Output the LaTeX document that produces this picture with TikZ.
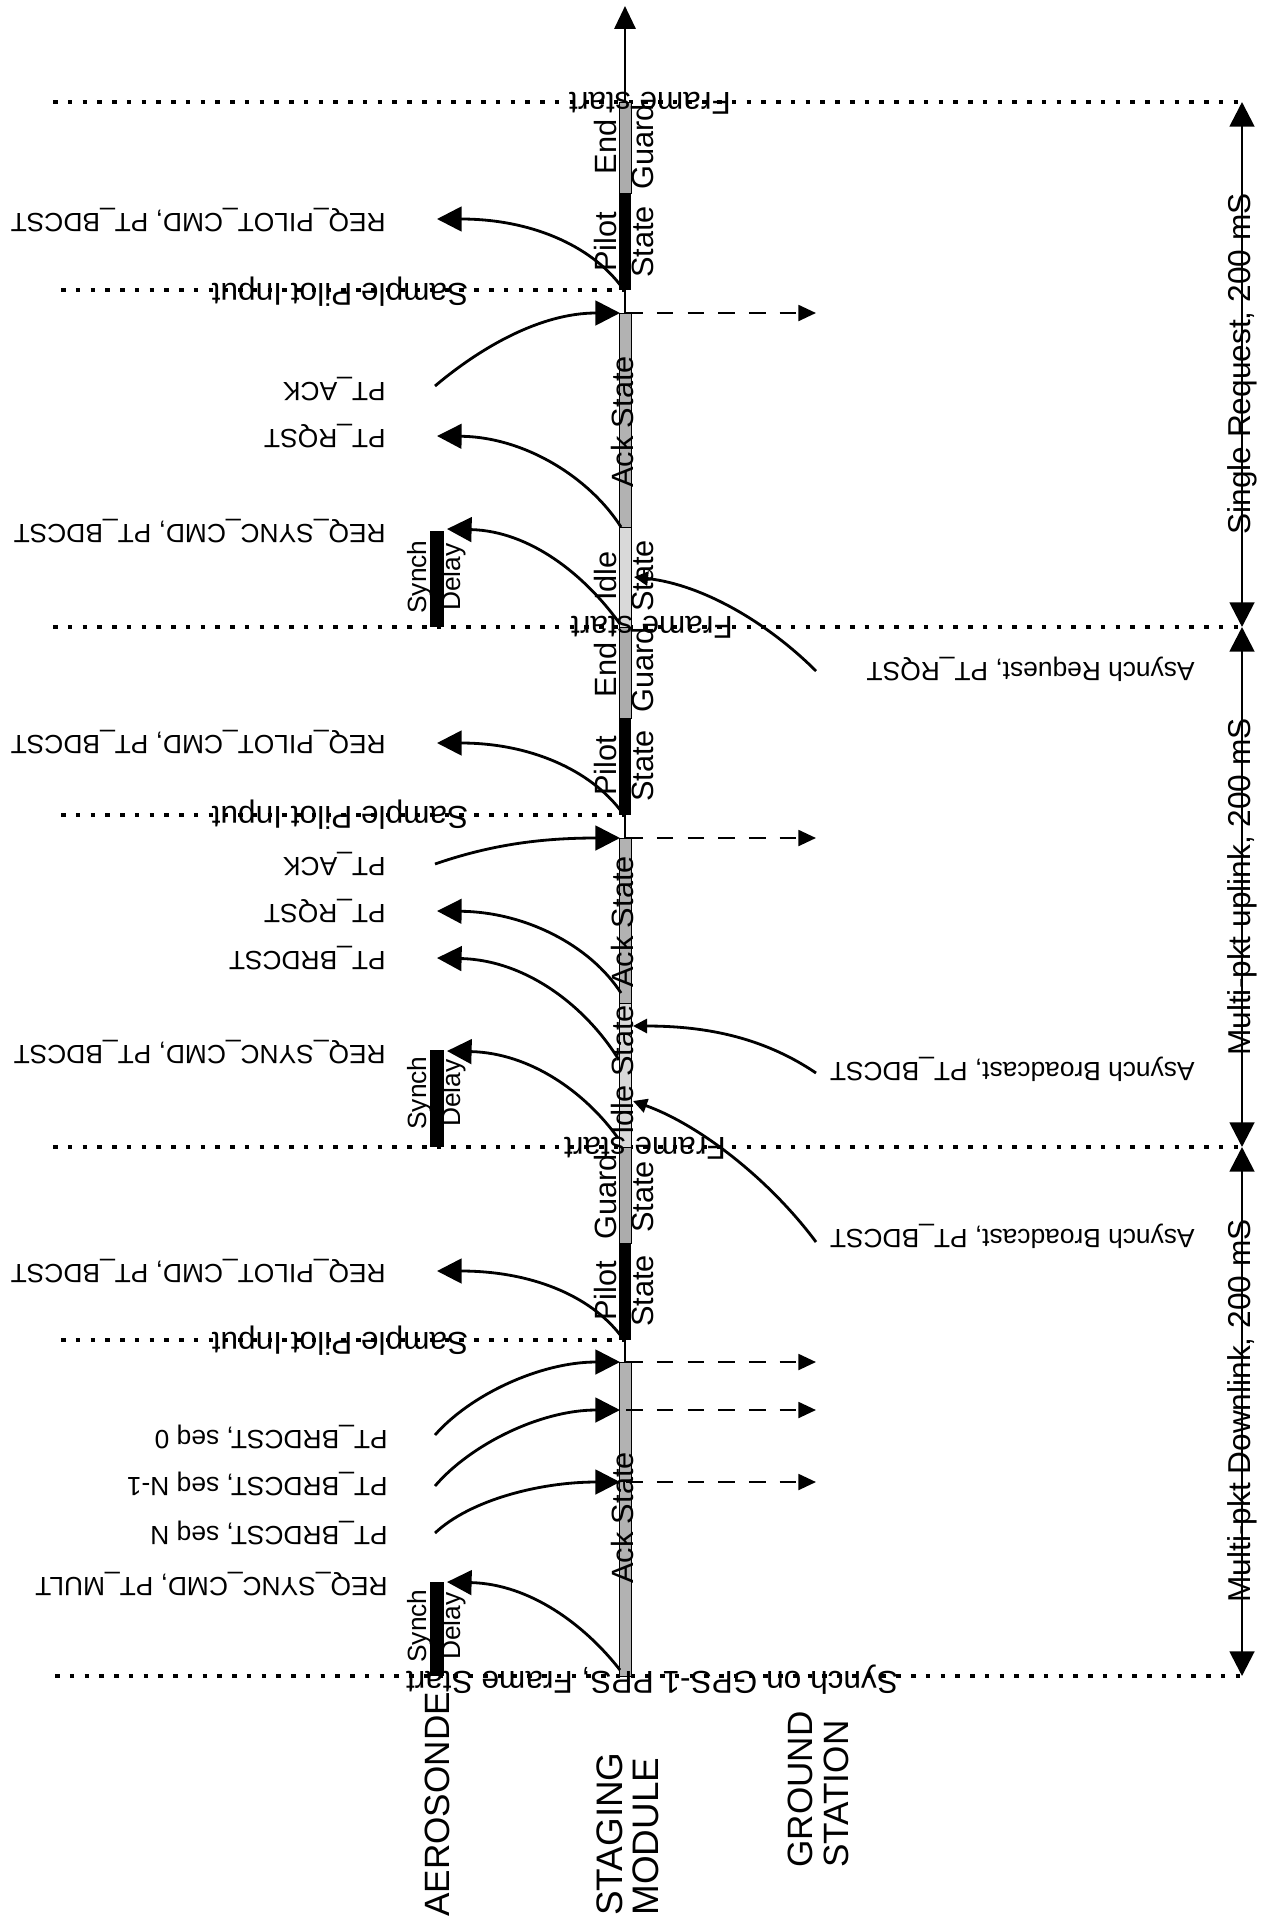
\documentclass[tikz,border=0pt]{standalone}
\usepackage{fontspec}
\setmainfont{Liberation Sans}
\usetikzlibrary{arrows.meta}
\newcommand{\msgfont}{\fontsize{15}{18}\selectfont}
\newcommand{\markfont}{\fontsize{18}{21}\selectfont}
\newcommand{\statefont}{\fontsize{17.5}{21}\selectfont}
\newcommand{\delayfont}{\fontsize{15}{19.5}\selectfont}
\newcommand{\headfont}{\fontsize{20}{20.5}\selectfont}
\begin{document}
\begin{tikzpicture}[x=0.02cm, y=-0.02cm,
    frameline/.style={line width=2pt, dash pattern=on 2.6pt off 5.8pt},
    msg/.style={line width=1.6pt, -{Triangle[length=14pt,width=14pt]}},
    async/.style={line width=1.6pt, -{Triangle[length=8pt,width=8pt]}},
    fwd/.style={line width=1.4pt, dash pattern=on 9.5pt off 8pt, -{Triangle[length=10pt,width=9pt]}},
    span/.style={line width=1.6pt, {Triangle[length=14pt,width=14pt]}-{Triangle[length=14pt,width=14pt]}},
    guardbar/.style={fill=gray!65, draw=black, line width=0.4pt},
    pilotbar/.style={fill=black},
    ackbar/.style={fill=gray!60, draw=black, line width=0.4pt},
    idlebar/.style={fill=gray!30, draw=black, line width=0.4pt},
    msglabel/.style={rotate=180, anchor=west, font=\msgfont, inner sep=0pt},
    marklabel/.style={rotate=180, font=\markfont, inner sep=0pt},
    statelabel/.style={rotate=90, align=center, font=\statefont, inner sep=0pt},
    spanlabel/.style={rotate=90, font=\markfont, inner sep=0pt}]
  \useasboundingbox (0,0) rectangle (1270,1917);

  % time axis of the staging module
  \coordinate (axbot) at (625,1676);
  \coordinate (axtop) at (625,6);
  \draw[line width=1.5pt, -{Triangle[length=13pt,width=12pt]}] (axbot) -- (axtop);

  % frame boundaries
  \draw[frameline] (53,102) -- (1242,102);
  \draw[frameline] (53,627) -- (1242,627);
  \draw[frameline] (53,1147) -- (1242,1147);
  \draw[frameline] (55,1676) -- (1242,1676);
  \draw[frameline] (61,290) -- (625,290);
  \draw[frameline] (61,815) -- (625,815);
  \draw[frameline] (61,1340) -- (625,1340);

  % states on the staging module
  \draw[guardbar] (619,102) rectangle (631,193);
  \fill[pilotbar] (619,193) rectangle (631,290);
  \draw[ackbar] (619,313) rectangle (631,527);
  \draw[idlebar] (619,527) rectangle (631,627);
  \draw[guardbar] (619,627) rectangle (631,718);
  \fill[pilotbar] (619,718) rectangle (631,815);
  \draw[ackbar] (619,838) rectangle (631,1003);
  \draw[idlebar] (619,1003) rectangle (631,1147);
  \draw[guardbar] (619,1147) rectangle (631,1243);
  \fill[pilotbar] (619,1243) rectangle (631,1340);
  \draw[ackbar] (619,1362) rectangle (631,1676);

  % synch delay on the aerosonde
  \fill (430,531) rectangle (444,627);
  \fill (430,1050) rectangle (444,1147);
  \fill (430,1582) rectangle (444,1676);

  % spans on the right
  \coordinate (f0) at (1242,102);
  \coordinate (f1) at (1242,627);
  \coordinate (f2) at (1242,1147);
  \coordinate (f3) at (1242,1676);
  \draw[span] (f0) -- (f1);
  \draw[span] (f1) -- (f2);
  \draw[span] (f2) -- (f3);
  \node[spanlabel] (single) at (1242,364) {Single Request, 200 mS};
  \node[spanlabel] (uplink) at (1242,887) {Multi-pkt uplink, 200 mS};
  \node[spanlabel] (downlink) at (1242,1411) {Multi-pkt Downlink, 200 mS};

  % first frame
  \coordinate (pc1) at (621,286);
  \coordinate (pt1) at (437,219);
  \draw[msg] (pc1) .. controls (590,245) and (530,219) .. (pt1);
  \coordinate (as1) at (435,386);
  \coordinate (at1) at (620,313);
  \draw[msg] (as1) .. controls (480,348) and (540,313) .. (at1);
  \coordinate (fd1) at (626,313);
  \coordinate (fe1) at (816,313);
  \draw[fwd] (fd1) -- (fe1);
  \coordinate (rc1) at (621,527);
  \coordinate (rt1) at (437,436);
  \draw[msg] (rc1) .. controls (590,478) and (525,437) .. (rt1);
  \coordinate (sc1) at (620,624);
  \coordinate (st1) at (447,529);
  \draw[msg] (sc1) .. controls (585,575) and (530,531) .. (st1);
  \coordinate (qs1) at (816,671);
  \coordinate (qt1) at (634,577);
  \draw[async] (qs1) .. controls (770,625) and (705,585) .. (qt1);

  % second frame
  \coordinate (pc2) at (621,811);
  \coordinate (pt2) at (437,743);
  \draw[msg] (pc2) .. controls (590,770) and (530,743) .. (pt2);
  \coordinate (as2) at (435,864);
  \coordinate (at2) at (620,838);
  \draw[msg] (as2) .. controls (490,845) and (540,838) .. (at2);
  \coordinate (fd2) at (626,838);
  \coordinate (fe2) at (816,838);
  \draw[fwd] (fd2) -- (fe2);
  \coordinate (rc2) at (621,993);
  \coordinate (rt2) at (437,911);
  \draw[msg] (rc2) .. controls (590,945) and (525,912) .. (rt2);
  \coordinate (bc2) at (619,1060);
  \coordinate (bt2) at (437,958);
  \draw[msg] (bc2) .. controls (585,1005) and (525,960) .. (bt2);
  \coordinate (sc2) at (618,1138);
  \coordinate (st2) at (447,1051);
  \draw[msg] (sc2) .. controls (585,1092) and (530,1053) .. (st2);
  \coordinate (ga2) at (816,1073);
  \coordinate (gt2) at (633,1026);
  \draw[async] (ga2) .. controls (760,1035) and (700,1026) .. (gt2);
  \coordinate (gb2) at (816,1242);
  \coordinate (gu2) at (633,1101);
  \draw[async] (gb2) .. controls (770,1180) and (700,1125) .. (gu2);

  % third frame
  \coordinate (pc3) at (621,1336);
  \coordinate (pt3) at (437,1271);
  \draw[msg] (pc3) .. controls (590,1295) and (530,1271) .. (pt3);
  \coordinate (ks0) at (435,1435);
  \coordinate (kt0) at (620,1362);
  \draw[msg] (ks0) .. controls (470,1395) and (540,1362) .. (kt0);
  \coordinate (ks1) at (435,1486);
  \coordinate (kt1) at (620,1410);
  \draw[msg] (ks1) .. controls (470,1445) and (540,1410) .. (kt1);
  \coordinate (ks2) at (435,1533);
  \coordinate (kt2) at (620,1482);
  \draw[msg] (ks2) .. controls (470,1500) and (540,1482) .. (kt2);
  \coordinate (kd0) at (626,1362);
  \coordinate (ke0) at (816,1362);
  \draw[fwd] (kd0) -- (ke0);
  \coordinate (kd1) at (626,1410);
  \coordinate (ke1) at (816,1410);
  \draw[fwd] (kd1) -- (ke1);
  \coordinate (kd2) at (626,1482);
  \coordinate (ke2) at (816,1482);
  \draw[fwd] (kd2) -- (ke2);
  \coordinate (sc3) at (620,1670);
  \coordinate (st3) at (447,1582);
  \draw[msg] (sc3) .. controls (585,1625) and (530,1584) .. (st3);

  % state names
  \node[statelabel] (guard1) at (624,147) {End\\Guard};
  \node[statelabel] (pilot1) at (624,242) {Pilot\\State};
  \node[statelabel] (ack1) at (623,422) {Ack State};
  \node[statelabel] (idle1) at (624,576) {Idle\\State};
  \node[statelabel] (guard2) at (624,670) {End\\Guard};
  \node[statelabel] (pilot2) at (624,766) {Pilot\\State};
  \node[statelabel] (ack2) at (623,922) {Ack State};
  \node[statelabel] (idle2) at (623,1070) {Idle State};
  \node[statelabel] (guard3) at (624,1197) {Guard\\State};
  \node[statelabel] (pilot3) at (624,1291) {Pilot\\State};
  \node[statelabel] (ack3) at (623,1518) {Ack State};
  \node[statelabel, font=\delayfont] (delay1) at (437,577) {Synch\\Delay};
  \node[statelabel, font=\delayfont] (delay2) at (437,1093) {Synch\\Delay};
  \node[statelabel, font=\delayfont] (delay3) at (437,1626) {Synch\\Delay};

  % marks on the dotted lines
  \node[marklabel] (start1) at (650,103) {Frame start};
  \node[marklabel] (start2) at (652,627) {Frame start};
  \node[marklabel] (start3) at (645,1148) {Frame start};
  \node[marklabel] (gps) at (652,1680) {Synch on GPS-1 PPS, Frame Start};
  \node[marklabel] (sample1) at (340,292) {Sample Pilot Input};
  \node[marklabel] (sample2) at (340,815) {Sample Pilot Input};
  \node[marklabel] (sample3) at (340,1341) {Sample Pilot Input};

  % messages
  \node[msglabel] (m1) at (386,220) {REQ\_PILOT\_CMD, PT\_BDCST};
  \node[msglabel] (m2) at (386,389) {PT\_ACK};
  \node[msglabel] (m3) at (386,436) {PT\_RQST};
  \node[msglabel] (m4) at (386,531) {REQ\_SYNC\_CMD, PT\_BDCST};
  \node[msglabel] (m5) at (386,742) {REQ\_PILOT\_CMD, PT\_BDCST};
  \node[msglabel] (m6) at (386,864) {PT\_ACK};
  \node[msglabel] (m7) at (386,911) {PT\_RQST};
  \node[msglabel] (m8) at (386,958) {PT\_BRDCST};
  \node[msglabel] (m9) at (386,1052) {REQ\_SYNC\_CMD, PT\_BDCST};
  \node[msglabel] (m10) at (386,1271) {REQ\_PILOT\_CMD, PT\_BDCST};
  \node[msglabel] (m11) at (388,1437) {PT\_BRDCST, seq 0};
  \node[msglabel] (m12) at (388,1484) {PT\_BRDCST, seq N-1};
  \node[msglabel] (m13) at (388,1533) {PT\_BRDCST, seq N};
  \node[msglabel] (m14) at (388,1584) {REQ\_SYNC\_CMD, PT\_MULT};
  \node[msglabel] (g1) at (1195,669) {Asynch Request, PT\_RQST};
  \node[msglabel] (g2) at (1195,1069) {Asynch Broadcast, PT\_BDCST};
  \node[msglabel] (g3) at (1195,1236) {Asynch Broadcast, PT\_BDCST};

  % lanes
  \node[rotate=90, anchor=west, font=\headfont, inner sep=0pt] (aero) at (437,1917) {AEROSONDE};
  \node[rotate=90, anchor=west, align=left, font=\fontsize{21}{20.5}\selectfont, inner sep=0pt] (staging) at (628,1916) {STAGING\\MODULE};
  \node[rotate=90, anchor=west, align=left, font=\headfont, inner sep=0pt] (ground) at (818,1868) {GROUND\\STATION};
\end{tikzpicture}
\end{document}
